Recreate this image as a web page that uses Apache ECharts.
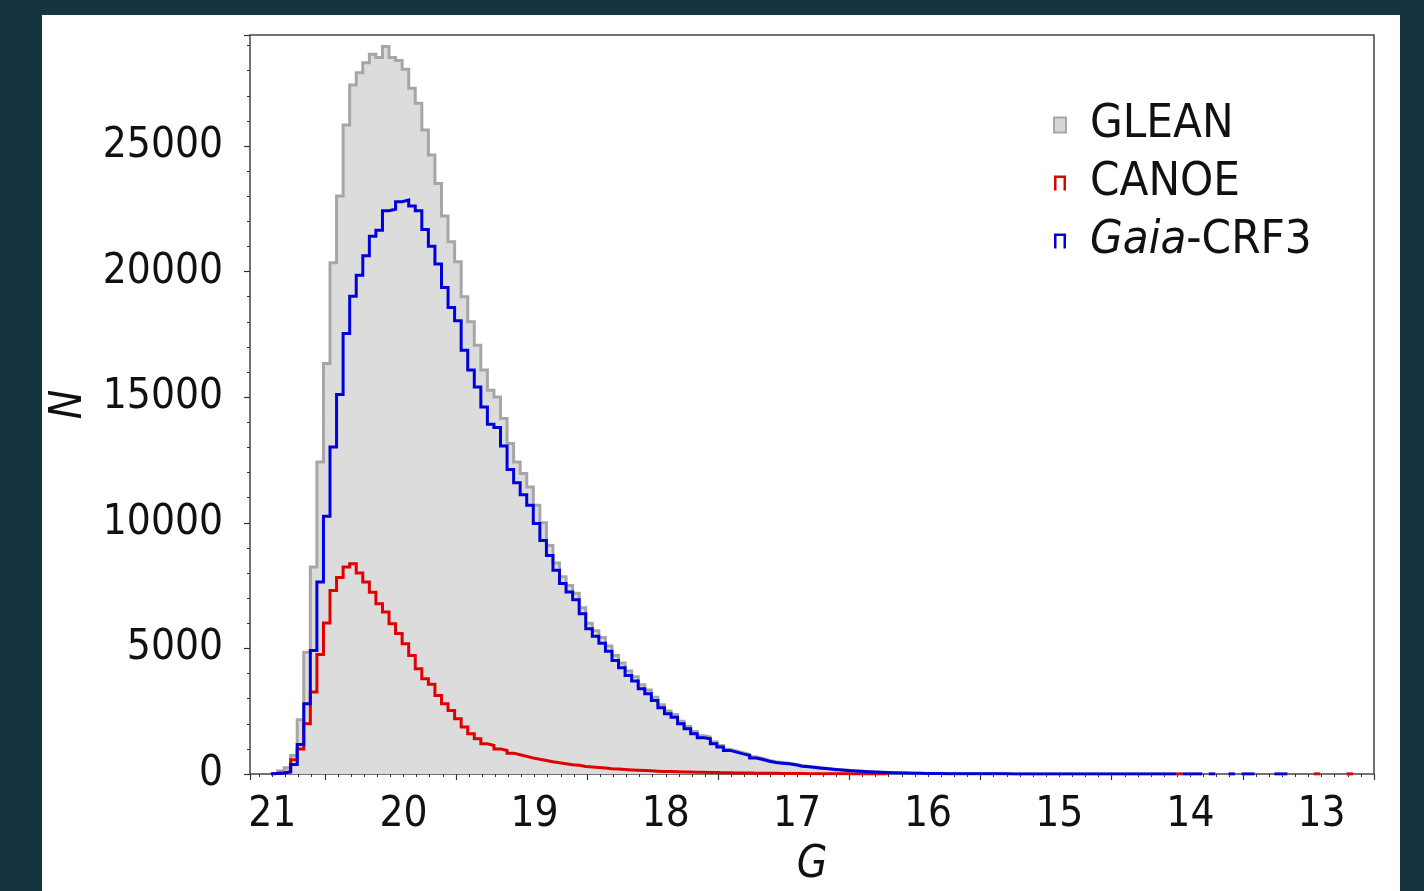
<!DOCTYPE html>
<html>
<head>
<meta charset="utf-8">
<script src="https://cdn.jsdelivr.net/npm/echarts@6.0.0/dist/echarts.min.js"></script>
<style>
html,body{margin:0;padding:0;background:#15343f;overflow:hidden;}
#panel{position:absolute;left:42px;top:15px;width:1358px;height:876px;background:#ffffff;}
#c{position:absolute;left:0;top:0;width:1424px;height:891px;}
</style>
</head>
<body>
<div id="panel"></div>
<div id="c"></div>
<script>
const _ = null;
// Histogram bins: left edge of first bin and bin width (magnitudes, G decreasing)
const binStart = 21.05;
const binWidth = 0.05;
const seriesNames = ['GLEAN', 'CANOE', 'Gaia-CRF3'];
const xTickLabels = [13, 14, 15, 16, 17, 18, 19, 20, 21];
const yTickLabels = [0, 5000, 10000, 15000, 20000, 25000];

// Counts per bin (bin i spans binStart - i*binWidth  ->  binStart - (i+1)*binWidth)
const glean = [
  30, 120, 250, 740, 2160, 4850, 8240, 12420, 16340, 20350,
  23010, 25840, 27430, 27920, 28320, 28650, 28520, 28960, 28520, 28400,
  28060, 27300, 26700, 25640, 24640, 23510, 22210, 21190, 20390, 19000,
  18000, 17070, 16080, 15280, 15010, 14150, 13160, 12420, 11960, 11430,
  10700, 10000, 9100, 8400, 7850, 7500, 7200, 6620, 6000, 5700,
  5430, 5100, 4720, 4420, 4100, 3870, 3550, 3340, 3060, 2760,
  2510, 2370, 2100, 1890, 1690, 1520, 1470, 1270, 1130, 990,
  920, 850, 780, 685, 615, 545, 490, 460, 430, 390,
  335, 305, 278, 248, 220, 194, 172, 150, 130, 113,
  97, 81, 70, 59, 52, 45, 39, 33, 28, 24,
  21, 18, 15, 13, 11, 10, 9, 8, 7, 6,
  6, 5, 5, 4, 4, 3, 3, 3, 2, 2,
  2, 2, 2, 2, 1, 1, 2, 1, 1, 1,
  1, 1, 1, 1, 1, 1, 1, 1, 1, 1,
  1, 1, _, 1, _, _, 1, _, 1, 1,
  _, _, _, 1, 1, _, _, _, _, 1,
  _, _, _, _, 1, _, _, _
];
const canoe = [
  20, 40, 100, 565, 1000, 2000, 3260, 4760, 6010, 7310,
  7820, 8240, 8370, 8000, 7640, 7240, 6780, 6450, 5980, 5590,
  5190, 4720, 4190, 3790, 3570, 3130, 2800, 2530, 2200, 1870,
  1600, 1400, 1200, 1135, 1000, 935, 830, 765, 700, 640,
  590, 540, 490, 450, 410, 370, 345, 300, 280, 260,
  235, 210, 195, 180, 160, 145, 135, 125, 110, 100,
  95, 85, 80, 75, 70, 65, 60, 55, 50, 45,
  42, 38, 35, 32, 30, 27, 25, 22, 20, 18,
  16, 14, 12, 10, 9, 8, 6, 5, 4, 4,
  3, 3, 2, 2, _, _, _, _, _, _,
  _, _, _, _, _, _, _, _, _, _,
  _, _, _, _, _, _, _, _, _, _,
  _, _, _, _, _, _, _, _, _, _,
  _, _, _, _, _, _, _, _, 1, _,
  _, _, _, _, _, _, _, _, _, _,
  _, _, _, _, _, _, _, _, _, 1,
  _, _, _, _, 1, _, _, _
];
const gaiaCrf3 = [
  20, 40, 80, 380, 1175, 2800, 4920, 7640, 10260, 13020,
  15110, 17540, 19020, 19860, 20630, 21410, 21650, 22420, 22480, 22780,
  22850, 22610, 22420, 21680, 21010, 20300, 19370, 18570, 18040, 16870,
  16080, 15410, 14610, 13920, 13790, 13060, 12120, 11590, 11120, 10700,
  9970, 9300, 8700, 8110, 7580, 7250, 6940, 6380, 5780, 5480,
  5210, 4890, 4520, 4230, 3920, 3700, 3390, 3190, 2930, 2640,
  2400, 2260, 2000, 1800, 1600, 1440, 1400, 1200, 1070, 940,
  870, 800, 740, 640, 580, 510, 460, 430, 405, 365,
  310, 285, 260, 230, 205, 180, 160, 140, 120, 105,
  90, 75, 65, 55, 48, 42, 36, 30, 26, 22,
  19, 16, 14, 12, 10, 9, 8, 7, 6, 6,
  5, 5, 4, 4, 3, 3, 3, 2, 2, 2,
  2, 2, 2, 1, 1, 2, 1, 1, 1, 1,
  1, 1, 1, 1, 1, 1, 1, 1, _, 1,
  1, 1, _, 1, _, _, 1, _, 1, 1,
  _, _, _, 1, 1, _, _, _, _, _,
  _, _, _, _, _, _, _, _
];

const FF = '"Liberation Sans Narrow", "DejaVu Sans Condensed", "Liberation Sans", sans-serif';
const TXT = '#111111';

// Build a histogram outline (step path) from bin counts; empty bins break the line.
function outline(counts) {
  const pts = [[binStart, 0]];
  counts.forEach((c, i) => {
    const l = +(binStart - i * binWidth).toFixed(2);
    const r = +(l - binWidth).toFixed(2);
    if (c === null) {
      const last = pts[pts.length - 1];
      if (last[1] !== '-') pts.push([l, '-']);
      return;
    }
    pts.push([l, c], [r, c]);
  });
  return pts;
}

const chart = echarts.init(document.getElementById('c'), null, { renderer: 'canvas' });
const legendIconOpen = 'path://M0,15 L0,0 L12,0 L12,15 L9.5,15 L9.5,2.5 L2.5,2.5 L2.5,15 Z';

chart.setOption({
  backgroundColor: 'transparent',
  animation: false,
  grid: {
    left: 250, top: 35, width: 1124, height: 739,
    show: true, borderColor: '#444444', borderWidth: 1.5,
    backgroundColor: 'transparent', containLabel: false, outerBoundsMode: 'none'
  },
  legend: {
    orient: 'vertical', left: 1048, top: 95,
    itemWidth: 50, itemHeight: 15, itemGap: 8,
    selectedMode: false,
    textStyle: {
      fontFamily: FF, fontSize: 47, color: TXT, lineHeight: 50,
      rich: { i: { fontFamily: FF, fontSize: 47, color: TXT, fontStyle: 'italic', lineHeight: 50 } }
    },
    formatter: n => n === 'Gaia-CRF3' ? '{i|Gaia}-CRF3' : n,
    data: [
      { name: seriesNames[0], icon: 'path://M0,0 L12,0 L12,15 L0,15 Z',
        itemStyle: { color: '#d6d6d6', borderColor: '#a6a6a6', borderWidth: 2 } },
      { name: seriesNames[1], icon: legendIconOpen, itemStyle: { color: '#e00000', borderWidth: 0 } },
      { name: seriesNames[2], icon: legendIconOpen, itemStyle: { color: '#0000dd', borderWidth: 0 } }
    ]
  },
  xAxis: [
    {
      type: 'value', min: 12.64, max: 21.21, inverse: true, interval: 0.1, position: 'bottom',
      axisLine: { show: false }, splitLine: { show: false },
      axisTick: { show: true, inside: false, length: 3, lineStyle: { color: '#333', width: 1 } },
      axisLabel: {
        margin: 20, fontFamily: FF, fontSize: 42, color: TXT,
        formatter: v => xTickLabels.includes(Math.round(v * 10) / 10) ? String(Math.round(v)) : ''
      },
      name: 'G', nameLocation: 'middle', nameGap: 70,
      nameTextStyle: { fontFamily: FF, fontSize: 44, fontStyle: 'italic', color: TXT }
    },
    {
      type: 'value', min: 12.64, max: 21.21, inverse: true, interval: 1, position: 'bottom', offset: 0,
      axisLine: { show: false }, splitLine: { show: false },
      axisTick: { show: true, inside: false, length: 6, lineStyle: { color: '#333', width: 1.2 } },
      axisLabel: { show: false }
    }
  ],
  yAxis: [
    {
      type: 'value', min: 0, max: 29420, interval: 1000, position: 'left',
      axisLine: { show: false }, splitLine: { show: false },
      axisTick: { show: true, inside: false, length: 3, lineStyle: { color: '#333', width: 1 } },
      axisLabel: {
        margin: 27, fontFamily: FF, fontSize: 42, color: TXT,
        formatter: v => yTickLabels.includes(Math.round(v)) ? String(Math.round(v)) : ''
      },
      name: 'N', nameLocation: 'middle', nameGap: 151, nameRotate: 90,
      nameTextStyle: { fontFamily: FF, fontSize: 44, fontStyle: 'italic', color: TXT }
    },
    {
      type: 'value', min: 0, max: 29420, interval: 5000, position: 'left', offset: 0,
      axisLine: { show: false }, splitLine: { show: false },
      axisTick: { show: true, inside: false, length: 6, lineStyle: { color: '#333', width: 1.2 } },
      axisLabel: { show: false }
    }
  ],
  series: [
    {
      name: seriesNames[0], type: 'line', xAxisIndex: 0, yAxisIndex: 0,
      data: outline(glean), showSymbol: false, symbol: 'none', connectNulls: false, silent: true,
      lineStyle: { color: '#a6a6a6', width: 3, join: 'miter', cap: 'butt' },
      itemStyle: { color: '#a6a6a6' },
      areaStyle: { color: '#dcdcdc', opacity: 1 },
      z: 2
    },
    {
      name: seriesNames[1], type: 'line', xAxisIndex: 0, yAxisIndex: 0,
      data: outline(canoe), showSymbol: false, symbol: 'none', connectNulls: false, silent: true,
      lineStyle: { color: '#e00000', width: 3, join: 'miter', cap: 'butt' },
      itemStyle: { color: '#e00000' },
      z: 3
    },
    {
      name: seriesNames[2], type: 'line', xAxisIndex: 0, yAxisIndex: 0,
      data: outline(gaiaCrf3), showSymbol: false, symbol: 'none', connectNulls: false, silent: true,
      lineStyle: { color: '#0000dd', width: 3, join: 'miter', cap: 'butt' },
      itemStyle: { color: '#0000dd' },
      z: 4
    }
  ]
});
</script>
</body>
</html>
